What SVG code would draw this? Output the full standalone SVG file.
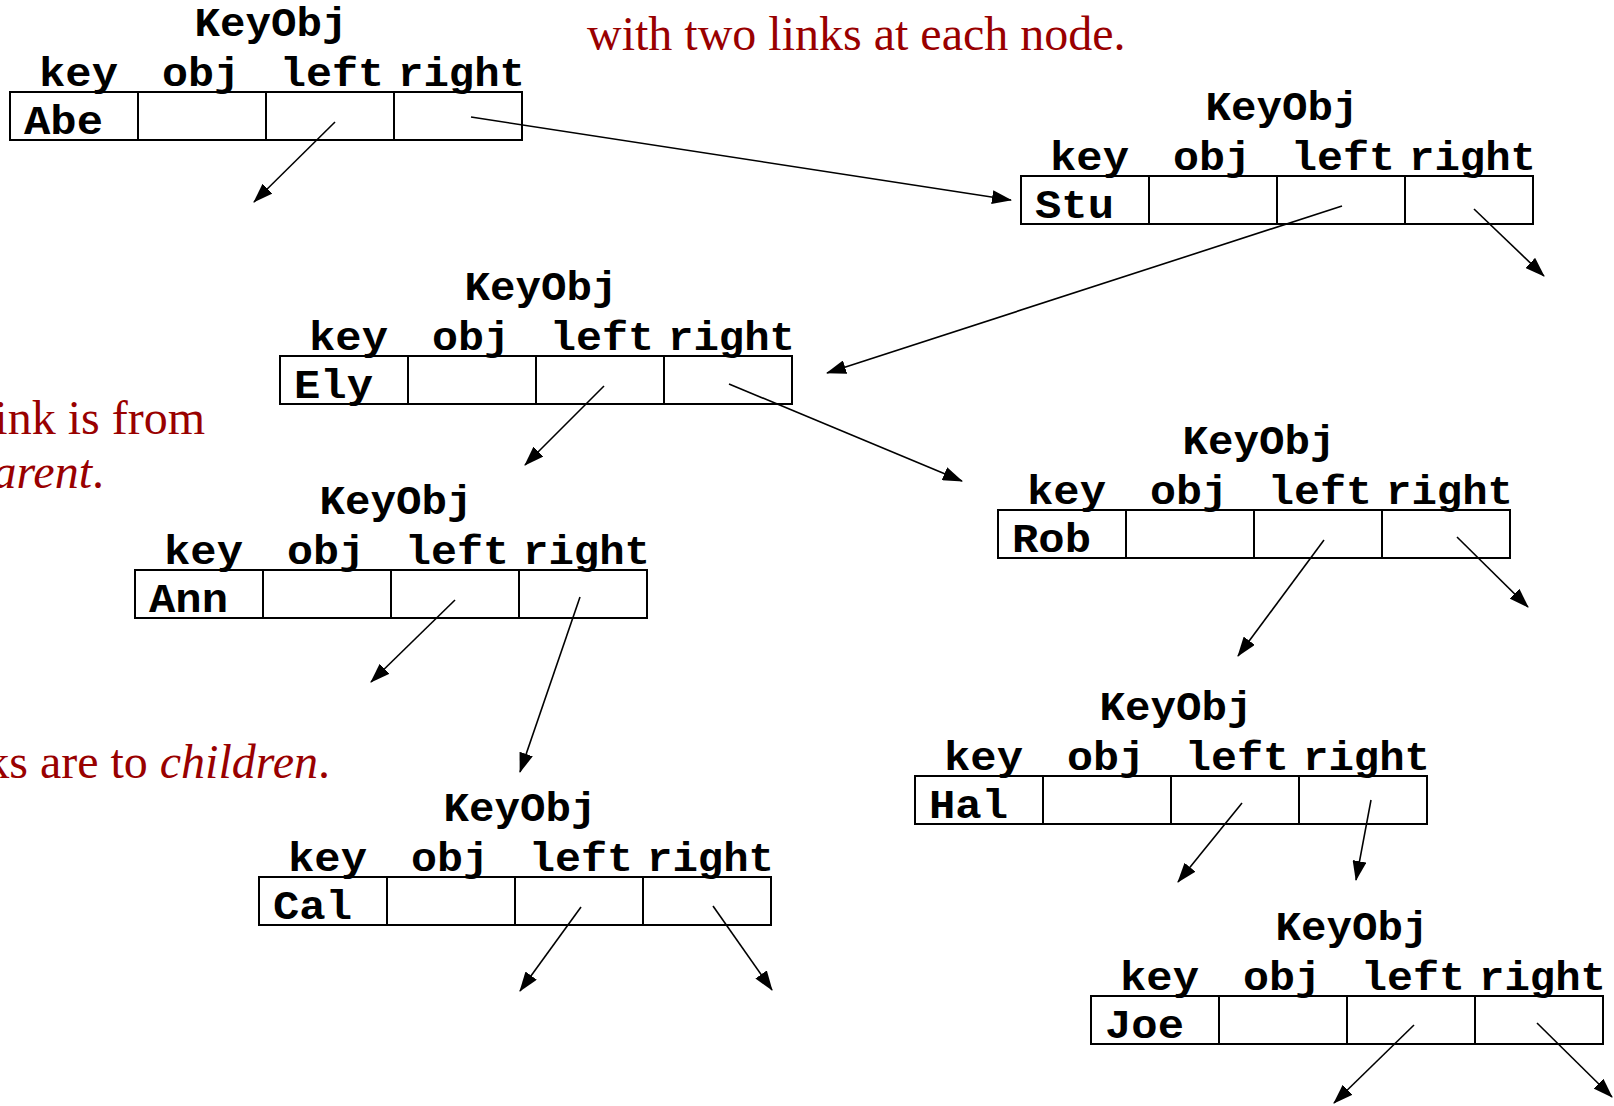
<svg xmlns="http://www.w3.org/2000/svg" width="1614" height="1106" viewBox="0 0 1614 1106">
<style>
.note{font-family:"Liberation Serif","Times New Roman",serif;font-size:48px;fill:#990000}
.it{font-style:italic}
.mono{font-family:"Liberation Mono","Courier New",monospace;font-weight:bold;font-size:40px;fill:#000}
.title{text-anchor:middle}
.box{fill:#fff;stroke:#000;stroke-width:2}
.div{stroke:#000;stroke-width:2}
.link{stroke:#000;stroke-width:1.6;fill:none;marker-end:url(#ah)}
</style>
<defs>
<marker id="ah" markerUnits="userSpaceOnUse" markerWidth="20" markerHeight="14" refX="19" refY="7" orient="auto">
<path d="M0,0 L20,7 L0,14 z" fill="#000"/>
</marker>
<g id="cells">
<rect class="box" x="0" y="0" width="512" height="48"/>
<line class="div" x1="128" y1="0" x2="128" y2="48"/>
<line class="div" x1="256" y1="0" x2="256" y2="48"/>
<line class="div" x1="384" y1="0" x2="384" y2="48"/>
</g>
<g id="heads" class="mono">
<text class="title" x="261" y="-56" textLength="153" lengthAdjust="spacingAndGlyphs">KeyObj</text>
<text x="29" y="-6" textLength="79" lengthAdjust="spacingAndGlyphs">key</text>
<text x="152" y="-6" textLength="78" lengthAdjust="spacingAndGlyphs">obj</text>
<text x="270" y="-6" textLength="104" lengthAdjust="spacingAndGlyphs">left</text>
<text x="388" y="-6" textLength="127" lengthAdjust="spacingAndGlyphs">right</text>
</g>
</defs>

<g id="notes">
<text class="note" x="587" y="50">with two links at each node.</text>
<text class="note" x="205" y="434" text-anchor="end">ink is from</text>
<text class="note" x="104" y="488" text-anchor="end"><tspan class="it">arent</tspan>.</text>
<text class="note" x="330" y="778" text-anchor="end">ks are to <tspan class="it">children</tspan>.</text>
</g>

<g id="node-abe" transform="translate(10,92)"><use href="#cells"/><use href="#heads"/><text class="mono" x="14" y="42" textLength="79" lengthAdjust="spacingAndGlyphs">Abe</text></g>
<g id="node-stu" transform="translate(1021,176)"><use href="#cells"/><use href="#heads"/><text class="mono" x="14" y="42" textLength="79" lengthAdjust="spacingAndGlyphs">Stu</text></g>
<g id="node-ely" transform="translate(280,356)"><use href="#cells"/><use href="#heads"/><text class="mono" x="14" y="42" textLength="79" lengthAdjust="spacingAndGlyphs">Ely</text></g>
<g id="node-rob" transform="translate(998,510)"><use href="#cells"/><use href="#heads"/><text class="mono" x="14" y="42" textLength="79" lengthAdjust="spacingAndGlyphs">Rob</text></g>
<g id="node-ann" transform="translate(135,570)"><use href="#cells"/><use href="#heads"/><text class="mono" x="14" y="42" textLength="79" lengthAdjust="spacingAndGlyphs">Ann</text></g>
<g id="node-hal" transform="translate(915,776)"><use href="#cells"/><use href="#heads"/><text class="mono" x="14" y="42" textLength="79" lengthAdjust="spacingAndGlyphs">Hal</text></g>
<g id="node-cal" transform="translate(259,877)"><use href="#cells"/><use href="#heads"/><text class="mono" x="14" y="42" textLength="79" lengthAdjust="spacingAndGlyphs">Cal</text></g>
<g id="node-joe" transform="translate(1091,996)"><use href="#cells"/><use href="#heads"/><text class="mono" x="14" y="42" textLength="79" lengthAdjust="spacingAndGlyphs">Joe</text></g>

<g id="connectors">
<line class="link" x1="335" y1="122" x2="254" y2="202"/>
<line class="link" x1="471" y1="117" x2="1011" y2="200"/>
<line class="link" x1="1342" y1="206" x2="827" y2="373"/>
<line class="link" x1="1474" y1="209" x2="1544" y2="276"/>
<line class="link" x1="604" y1="386" x2="525" y2="465"/>
<line class="link" x1="729" y1="384" x2="962" y2="481"/>
<line class="link" x1="455" y1="600" x2="371" y2="682"/>
<line class="link" x1="580" y1="597" x2="520" y2="772"/>
<line class="link" x1="1324" y1="540" x2="1238" y2="656"/>
<line class="link" x1="1457" y1="537" x2="1528" y2="607"/>
<line class="link" x1="1242" y1="803" x2="1178" y2="882"/>
<line class="link" x1="1371" y1="800" x2="1356" y2="880"/>
<line class="link" x1="581" y1="907" x2="520" y2="991"/>
<line class="link" x1="713" y1="906" x2="772" y2="990"/>
<line class="link" x1="1414" y1="1025" x2="1334" y2="1103"/>
<line class="link" x1="1537" y1="1023" x2="1612" y2="1097"/>
</g>
</svg>
